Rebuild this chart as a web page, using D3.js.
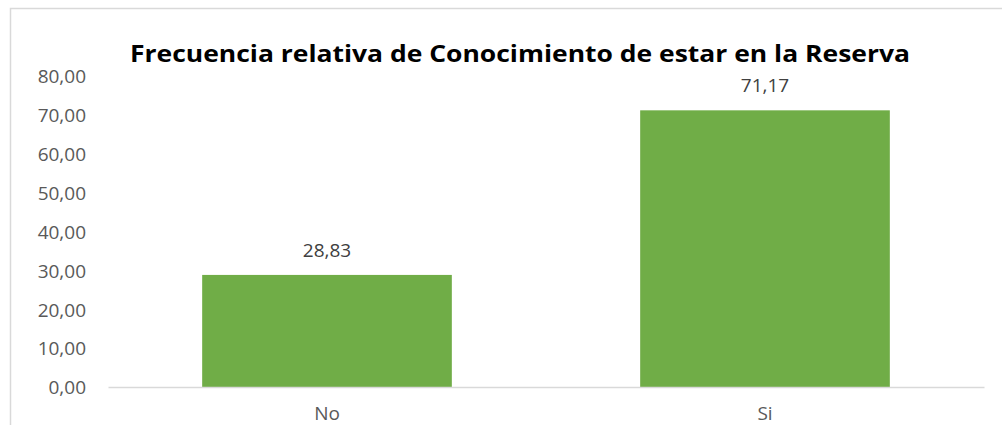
<!DOCTYPE html>
<html>
<head>
<meta charset="utf-8">
<script src="https://cdn.jsdelivr.net/npm/d3@7"></script>
<style>
  html, body { margin: 0; padding: 0; background: #fff; overflow: hidden; }
  svg { display: block; }
</style>
</head>
<body>
<svg id="chart" width="1002" height="425"></svg>
<script>
// Relative frequency of knowing one lives inside the Reserve
const categories = ["No", "Si"];
const values = [28.83, 71.17];
const yTicks = [0, 10, 20, 30, 40, 50, 60, 70, 80];
const titleText = "Frecuencia relativa de Conocimiento de estar en la Reserva";

const fmt = v => v.toFixed(2).replace(".", ",");

const svg = d3.select("#chart");
const font = "'Open Sans', 'Liberation Sans', sans-serif";

// chart frame
svg.append("rect")
  .attr("x", 10.5).attr("y", 8.5)
  .attr("width", 1010).attr("height", 440)
  .attr("fill", "#fff")
  .attr("stroke", "#d9d9d9").attr("stroke-width", 1.5);

const plot = { left: 108, right: 984, top: 76, bottom: 387 };

const x = d3.scaleBand()
  .domain(categories)
  .range([plot.left, plot.right])
  .paddingInner(0.43)
  .paddingOuter(0.215);

const y = d3.scaleLinear()
  .domain([0, 80])
  .range([plot.bottom, plot.top]);

// title
svg.append("text")
  .attr("x", 520).attr("y", 62)
  .attr("text-anchor", "middle")
  .attr("font-family", font)
  .attr("font-weight", "bold")
  .attr("font-size", 24)
  .attr("fill", "#000")
  .attr("textLength", 780)
  .attr("lengthAdjust", "spacingAndGlyphs")
  .text(titleText);

// y axis labels (no axis line, no grid)
const yAxis = d3.axisLeft(y)
  .tickValues(yTicks)
  .tickFormat(fmt)
  .tickSize(0)
  .tickPadding(0);

const yg = svg.append("g")
  .attr("transform", `translate(86,0)`)
  .call(yAxis);
yg.select(".domain").remove();
yg.selectAll("text")
  .attr("font-family", font)
  .attr("font-size", 19)
  .attr("fill", "#595959")
  .attr("dy", "0.36em");

// bars
svg.append("g").selectAll("rect")
  .data(categories)
  .join("rect")
  .attr("x", d => x(d))
  .attr("width", x.bandwidth())
  .attr("y", (d, i) => y(values[i]))
  .attr("height", (d, i) => y(0) - y(values[i]))
  .attr("fill", "#70ad47");

// x axis baseline and category labels
const xAxis = d3.axisBottom(x).tickSize(0).tickPadding(0);
const xg = svg.append("g")
  .attr("transform", `translate(0,${plot.bottom})`)
  .call(xAxis);
xg.select(".domain")
  .attr("stroke", "#d9d9d9")
  .attr("stroke-width", 1.5);
xg.selectAll("text")
  .attr("font-family", font)
  .attr("font-size", 19)
  .attr("fill", "#595959")
  .attr("dy", 0)
  .attr("y", 33);

// value labels
svg.append("g").selectAll("text")
  .data(categories)
  .join("text")
  .attr("x", d => x(d) + x.bandwidth() / 2)
  .attr("y", (d, i) => y(values[i]) - 18)
  .attr("text-anchor", "middle")
  .attr("font-family", font)
  .attr("font-size", 19)
  .attr("fill", "#404040")
  .text((d, i) => fmt(values[i]));
</script>
</body>
</html>
